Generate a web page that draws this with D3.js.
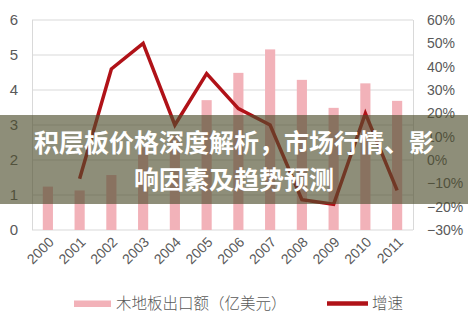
<!DOCTYPE html>
<html><head><meta charset="utf-8">
<script src="https://cdn.jsdelivr.net/npm/d3@7"></script>
<style>body{margin:0;background:#fff}svg{display:block}</style>
</head><body>
<svg id="c" width="468" height="321"></svg>
<script>
const years = ["2000","2001","2002","2003","2004","2005","2006","2007","2008","2009","2010","2011"];
const exportValues = [1.24,1.13,1.57,2.36,2.71,3.71,4.49,5.16,4.29,3.49,4.19,3.69];
const growthRates = [null,-8,39,50,15,37,22,15,-17,-19,20,-13];
const leftTicks = [0,1,2,3,4,5,6];
const rightTicks = [-30,-20,-10,0,10,20,30,40,50,60];
const titleLines = ["积层板价格深度解析，市场行情、影","响因素及趋势预测"];
const legendLabels = ["木地板出口额（亿美元）","增速"];

const svg = d3.select("#c");
const L=32,R=413,T=20,B=230;
const x = d3.scaleBand().domain(years).range([L,R]).paddingInner(0.68).paddingOuter(0.34);
const yL = d3.scaleLinear().domain([0,6]).range([B,T]);
const yR = d3.scaleLinear().domain([-30,60]).range([B,T]);
const font = "'Liberation Sans', Arial, sans-serif";

// grid
svg.append("g").selectAll("line").data(leftTicks).join("line")
  .attr("x1",L).attr("x2",R).attr("y1",d=>yL(d)).attr("y2",d=>yL(d))
  .attr("stroke","#d9d9d9").attr("stroke-width",1);
svg.append("line").attr("x1",L+0.5).attr("x2",L+0.5).attr("y1",T).attr("y2",B).attr("stroke","#d9d9d9");
svg.append("line").attr("x1",R+0.5).attr("x2",R+0.5).attr("y1",T).attr("y2",B).attr("stroke","#d9d9d9");

// left axis
const gl = svg.append("g").attr("transform",`translate(${L},0)`)
  .call(d3.axisLeft(yL).tickValues(leftTicks).tickSize(0).tickPadding(14).tickFormat(d3.format("d")));
gl.select(".domain").remove();
gl.selectAll("text").attr("fill","#595959").style("font-family",font).style("font-size","15px");

// right axis
const gr = svg.append("g").attr("transform",`translate(${R},0)`)
  .call(d3.axisRight(yR).tickValues(rightTicks).tickSize(0).tickPadding(14)
    .tickFormat(d=> (d<0?"\u2212"+Math.abs(d):d)+"%"));
gr.select(".domain").remove();
gr.selectAll("text").attr("fill","#595959").style("font-family",font).style("font-size","14px");

// bottom axis
const gb = svg.append("g").attr("transform",`translate(0,${B})`)
  .call(d3.axisBottom(x).tickSize(0).tickPadding(0));
gb.select(".domain").remove();
gb.selectAll("text").attr("fill","#595959").style("font-family",font).style("font-size","14px")
  .attr("text-anchor","end").attr("dy","0").attr("transform","translate(7,13) rotate(-45)");

// bars
svg.append("g").selectAll("rect").data(years).join("rect")
  .attr("x",d=>x(d)).attr("width",x.bandwidth())
  .attr("y",(d,i)=>yL(exportValues[i])).attr("height",(d,i)=>B-yL(exportValues[i]))
  .attr("fill","#f2b2b9");

// line
const pts = years.map((d,i)=>({d,v:growthRates[i]}));
svg.append("path").datum(pts)
  .attr("d", d3.line().defined(p=>p.v!==null).x(p=>x(p.d)+x.bandwidth()/2).y(p=>yR(p.v)))
  .attr("fill","none").attr("stroke","#b01218").attr("stroke-width",3.5).attr("stroke-linejoin","miter");

// legend
const lg = svg.append("g");
lg.append("rect").attr("x",74).attr("y",300.5).attr("width",37).attr("height",6.5).attr("fill","#f2b2b9");
lg.append("text").attr("x",116).attr("y",309).text(legendLabels[0])
  .attr("fill","#595959").style("font-family","'Noto Sans CJK SC'").style("font-size","15.5px").style("font-weight","300");
lg.append("line").attr("x1",327).attr("x2",368).attr("y1",303.5).attr("y2",303.5).attr("stroke","#b01218").attr("stroke-width",4.5);
lg.append("text").attr("x",372).attr("y",309).text(legendLabels[1])
  .attr("fill","#595959").style("font-family","'Noto Sans CJK SC'").style("font-size","15.5px").style("font-weight","300");

// banner overlay
svg.append("rect").attr("x",0).attr("y",115).attr("width",468).attr("height",89)
  .attr("fill","rgb(78,78,45)").attr("fill-opacity",0.64);
svg.append("g").selectAll("text").data(titleLines).join("text")
  .attr("x",234).attr("y",(d,i)=>152+i*37).attr("text-anchor","middle")
  .attr("fill","#fff").style("font-family","'Noto Sans CJK SC'").style("font-size","25px").style("font-weight","700")
  .text(d=>d);
</script>
</body></html>
